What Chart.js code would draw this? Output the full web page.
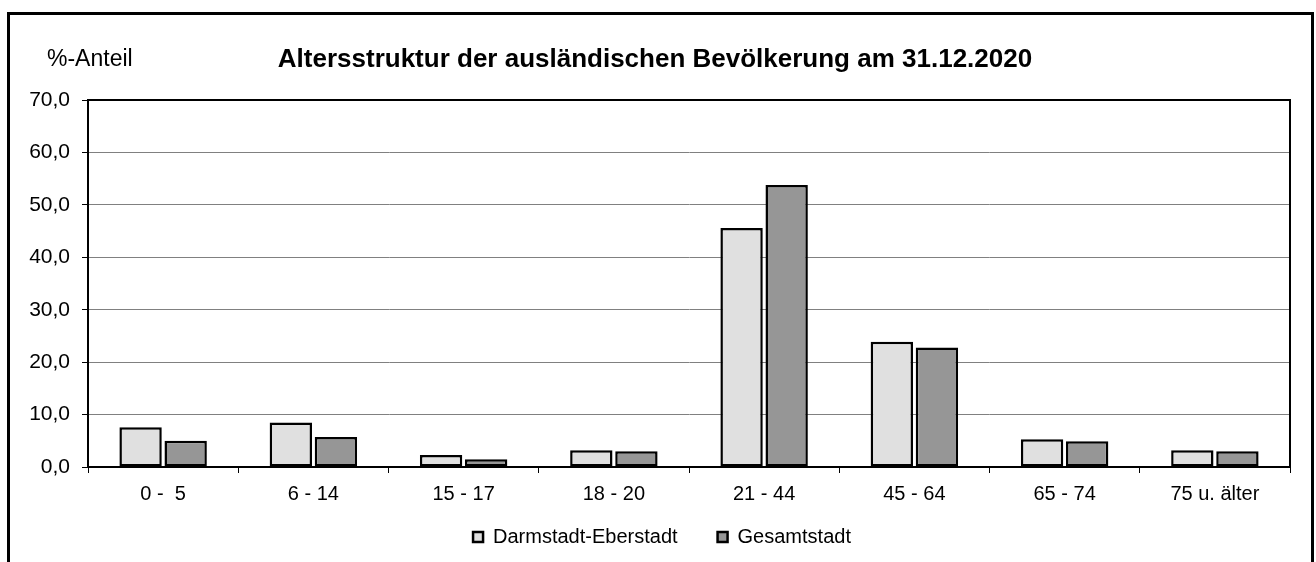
<!DOCTYPE html>
<html><head><meta charset="utf-8">
<script src="https://cdn.jsdelivr.net/npm/chart.js@4.4.1/dist/chart.umd.min.js"></script>
<style>
html,body{margin:0;padding:0;background:#fff;overflow:hidden;}
#wrap{position:relative;width:1316px;height:562px;}
#frame{position:absolute;left:7px;top:12px;width:1307px;height:600px;border:3px solid #000;box-sizing:border-box;}
canvas{position:absolute;left:0;top:0;}
</style></head>
<body><div id="wrap"><div id="frame"></div><canvas id="c" width="1316" height="562"></canvas></div>
<script>
const categories = ["0 -  5", "6 - 14", "15 - 17", "18 - 20", "21 - 44", "45 - 64", "65 - 74", "75 u. älter"];
const eberstadt = [7.6, 8.5, 2.3, 3.2, 45.6, 23.9, 5.3, 3.2];
const gesamt = [5.0, 5.7, 1.5, 3.0, 53.8, 22.8, 4.9, 3.0];
const seriesNames = ["Darmstadt-Eberstadt", "Gesamtstadt"];
const yTicks = [0, 10, 20, 30, 40, 50, 60, 70];
const titleText = "Altersstruktur der ausländischen Bevölkerung am 31.12.2020";
const yUnit = "%-Anteil";

const FONT = "Arial, 'Liberation Sans', sans-serif";

const deco = {
  id: 'deco',
  afterLayout(chart) {
    const lg = chart.legend;
    if (lg) { lg.top -= 30; lg.bottom -= 30; lg.left += 17; lg.right += 17; }
  },
  afterDraw(chart) {
    const {ctx, chartArea: a} = chart;
    ctx.save();
    ctx.strokeStyle = '#000';
    ctx.lineWidth = 2;
    ctx.beginPath();
    ctx.moveTo(a.left, a.top);
    ctx.lineTo(a.right, a.top);
    ctx.lineTo(a.right, a.bottom);
    ctx.stroke();
    ctx.fillStyle = '#000';
    ctx.textBaseline = 'middle';
    ctx.textAlign = 'left';
    ctx.font = "23px " + FONT;
    ctx.fillText(yUnit, 47, 60);
    ctx.textAlign = 'center';
    ctx.font = "bold 26px " + FONT;
    ctx.fillText(titleText, 655, 60);
    ctx.restore();
  }
};

new Chart(document.getElementById('c'), {
  type: 'bar',
  data: {
    labels: categories,
    datasets: [
      {label: seriesNames[0], data: eberstadt, backgroundColor: '#e0e0e0', borderColor: '#000', borderWidth: 2.5, borderSkipped: false,
       categoryPercentage: 0.6, barPercentage: 0.94},
      {label: seriesNames[1], data: gesamt, backgroundColor: '#969696', borderColor: '#000', borderWidth: 2.5, borderSkipped: false,
       categoryPercentage: 0.6, barPercentage: 0.94}
    ]
  },
  options: {
    responsive: false,
    animation: false,
    layout: {padding: {left: 0, right: 26, top: 100, bottom: -25}},
    plugins: {
      title: {display: false},
      tooltip: {enabled: false},
      legend: {
        position: 'bottom',
        labels: {boxWidth: 10, boxHeight: 10, padding: 40, color: '#000', font: {family: FONT, size: 20}}
      }
    },
    scales: {
      x: {
        grid: {offset: true, drawOnChartArea: false, tickColor: '#000', tickLength: 6, tickWidth: 1},
        border: {color: '#000', width: 2},
        ticks: {color: '#000', font: {family: FONT, size: 20}, padding: 9, maxRotation: 0, autoSkip: false},
        afterFit(s) { s.height = 50; }
      },
      y: {
        min: 0, max: 70,
        afterBuildTicks(s) { s.ticks = yTicks.map(v => ({value: v})); },
        grid: {color: '#808080', lineWidth: 1, tickColor: '#000', tickLength: 6},
        border: {color: '#000', width: 2},
        ticks: {color: '#000', font: {family: FONT, size: 21}, padding: 12,
                callback: v => v.toFixed(1).replace('.', ',')},
        afterFit(s) { s.width = 88; }
      }
    }
  },
  plugins: [deco]
});
</script></body></html>
